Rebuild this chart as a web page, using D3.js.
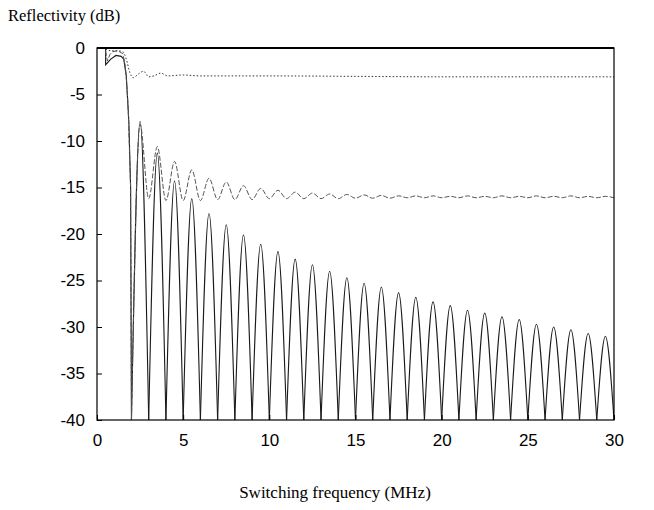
<!DOCTYPE html>
<html>
<head>
<meta charset="utf-8">
<script src="https://cdn.jsdelivr.net/npm/d3@7"></script>
<style>
  body { margin: 0; background: #fff; }
  .axis text { font-family: "Liberation Sans", Arial, sans-serif; font-size: 17px; fill: #000; }
  .axis-title { font-family: "Liberation Serif", "Times New Roman", serif; fill: #000; }
</style>
</head>
<body>
<svg id="chart"></svg>
<script>
// x ticks / y ticks
const xTicks = [0, 5, 10, 15, 20, 25, 30];
const yTicks = [0, -5, -10, -15, -20, -25, -30, -35, -40];

// solid curve: start section before the first null
const solidHead = [
  [0.5, 0], [0.5, -1.8], [0.8, -1.2], [1.1, -0.8], [1.4, -0.9], [1.55, -1.2],
  [1.7, -3], [1.85, -8], [1.95, -15], [2.0, -40]
];
// solid curve: lobes, nulls at integers, peak in the middle
const solidNulls = [2, 3, 4, 5, 6, 7, 8, 9, 10, 11, 12, 13, 14, 15, 16, 17, 18, 19, 20,
  21, 22, 23, 24, 25, 26, 27, 28, 29, 30];
const solidPeaks = [-7.9, -11.3, -14.3, -16.2, -17.8, -19.0, -20.1, -21.1, -21.9, -22.7,
  -23.3, -24.0, -24.7, -25.3, -25.7, -26.3, -26.8, -27.3, -27.7, -28.2,
  -28.5, -28.9, -29.2, -29.7, -30.0, -30.3, -30.7, -31.0];

// dashed curve
const dashedHead = [
  [0.5, -0.3], [0.6, -1.4], [0.75, -0.7], [0.9, -0.4], [1.2, -0.3], [1.5, -0.6],
  [1.65, -2], [1.8, -6], [1.95, -15], [2.0, -40]
];
const dashedPeakFreq = [2.5, 3.5, 4.5, 5.5, 6.5, 7.5, 8.5, 9.5, 10.5, 11.5, 12.5, 13.5, 14.5,
  15.5, 16.5, 17.5, 18.5, 19.5, 20.5, 21.5, 22.5, 23.5, 24.5, 25.5, 26.5, 27.5, 28.5, 29.5];
const dashedPeaks = [-8.2, -10.6, -12.2, -13.1, -14.0, -14.4, -14.8, -15.1, -15.3, -15.5,
  -15.6, -15.7, -15.75, -15.8, -15.85, -15.9, -15.9, -15.9, -15.95, -15.9,
  -15.95, -15.9, -15.95, -15.9, -15.95, -15.9, -15.95, -15.95];
const dashedTroughFreq = [3, 4, 5, 6, 7, 8, 9, 10, 11, 12, 13, 14, 15, 16, 17, 18, 19, 20,
  21, 22, 23, 24, 25, 26, 27, 28, 29, 30];
const dashedTroughs = [-16.2, -16.4, -16.4, -16.4, -16.3, -16.3, -16.3, -16.2, -16.2, -16.2,
  -16.2, -16.2, -16.15, -16.15, -16.15, -16.1, -16.1, -16.1, -16.1, -16.1,
  -16.1, -16.1, -16.1, -16.1, -16.1, -16.1, -16.1, -16.1];

// dotted curve
const dotted = [
  [0.5, -0.1], [0.8, -0.3], [1.2, -0.3], [1.5, -0.4], [1.7, -1.2], [1.9, -2.6],
  [2.1, -3.2], [2.4, -2.8], [2.7, -2.5], [3.0, -3.1], [3.3, -3.0], [3.7, -2.7],
  [4.1, -3.0], [5, -2.9], [6, -3.0], [8, -3.0], [10, -3.0], [15, -3.05],
  [20, -3.1], [25, -3.1], [30, -3.1]
];

class ReflectivityChart {
  constructor(_config) {
    this.config = {
      parentElement: _config.parentElement,
      containerWidth: _config.containerWidth || 654,
      containerHeight: _config.containerHeight || 510,
      margin: _config.margin || {top: 48, right: 40, bottom: 90, left: 97}
    };
    this.initVis();
  }

  initVis() {
    let vis = this;
    vis.width = vis.config.containerWidth - vis.config.margin.left - vis.config.margin.right;
    vis.height = vis.config.containerHeight - vis.config.margin.top - vis.config.margin.bottom;

    vis.xScale = d3.scaleLinear().domain([0, 30]).range([0, vis.width]);
    vis.yScale = d3.scaleLinear().domain([-40, 0]).range([vis.height, 0]);

    vis.svg = d3.select(vis.config.parentElement)
        .attr('width', vis.config.containerWidth)
        .attr('height', vis.config.containerHeight);

    vis.chart = vis.svg.append('g')
        .attr('transform', `translate(${vis.config.margin.left},${vis.config.margin.top})`);

    vis.chart.append('clipPath').attr('id', 'plot-clip')
      .append('rect')
        .attr('width', vis.width)
        .attr('height', vis.height + 1);

    vis.svg.append('text')
        .attr('class', 'axis-title')
        .attr('x', 8)
        .attr('y', 21)
        .style('font-size', '16.5px')
        .text('Reflectivity (dB)');

    vis.svg.append('text')
        .attr('class', 'axis-title')
        .attr('x', 335)
        .attr('y', 498)
        .style('font-size', '17px')
        .style('text-anchor', 'middle')
        .text('Switching frequency (MHz)');
  }

  renderVis() {
    let vis = this;
    const line = d3.line()
        .x(d => vis.xScale(d[0]))
        .y(d => vis.yScale(d[1]))
        .curve(d3.curveMonotoneX);
    const straight = d3.line()
        .x(d => vis.xScale(d[0]))
        .y(d => vis.yScale(d[1]));

    const plot = vis.chart.append('g').attr('clip-path', 'url(#plot-clip)');

    // solid
    const lobes = solidPeaks.map((p, i) => [
      [solidNulls[i], -40], [(solidNulls[i] + solidNulls[i + 1]) / 2, p], [solidNulls[i + 1], -40]
    ]);
    plot.append('path')
        .attr('d', straight(solidHead))
        .attr('fill', 'none').attr('stroke', '#1a1a1a').attr('stroke-width', 1.1);
    plot.selectAll('.lobe')
        .data(lobes)
      .join('path')
        .attr('class', 'lobe')
        .attr('d', line)
        .attr('fill', 'none')
        .attr('stroke', '#1a1a1a')
        .attr('stroke-width', 1.1);

    // dashed
    const wave = [];
    dashedPeakFreq.forEach((f, i) => {
      wave.push([f, dashedPeaks[i]]);
      if (i < dashedTroughFreq.length) wave.push([dashedTroughFreq[i], dashedTroughs[i]]);
    });
    plot.append('path')
        .attr('d', straight(dashedHead))
        .attr('fill', 'none').attr('stroke', '#555').attr('stroke-width', 1)
        .attr('stroke-dasharray', '5,2');
    plot.append('path')
        .attr('d', line([[2.0, -40]].concat(wave)))
        .attr('fill', 'none')
        .attr('stroke', '#555')
        .attr('stroke-width', 1)
        .attr('stroke-dasharray', '5,2');

    // dotted
    plot.append('path')
        .attr('d', line(dotted))
        .attr('fill', 'none')
        .attr('stroke', '#333')
        .attr('stroke-width', 1)
        .attr('stroke-dasharray', '1.5,2');

    // frame
    vis.chart.append('rect')
        .attr('width', vis.width)
        .attr('height', vis.height)
        .attr('fill', 'none')
        .attr('stroke', '#000')
        .attr('stroke-width', 1.2);
    vis.chart.append('line')
        .attr('x1', 0).attr('x2', vis.width)
        .attr('y1', 0).attr('y2', 0)
        .attr('stroke', '#000').attr('stroke-width', 2);

    // axes with inward ticks, plain hyphen for negatives
    const xAxis = d3.axisBottom(vis.xScale).tickValues(xTicks).tickSize(-5).tickPadding(14)
        .tickFormat(d => String(d));
    const yAxis = d3.axisLeft(vis.yScale).tickValues(yTicks).tickSize(-5).tickPadding(12)
        .tickFormat(d => String(d));

    vis.chart.append('g')
        .attr('class', 'axis x-axis')
        .attr('transform', `translate(0,${vis.height})`)
        .call(xAxis)
        .call(g => g.select('.domain').remove())
        .call(g => g.selectAll('line').attr('stroke', '#000'));

    vis.chart.append('g')
        .attr('class', 'axis y-axis')
        .call(yAxis)
        .call(g => g.select('.domain').remove())
        .call(g => g.selectAll('line').attr('stroke', '#000'));
  }
}

const chart = new ReflectivityChart({parentElement: '#chart'});
chart.renderVis();
</script>
</body>
</html>
